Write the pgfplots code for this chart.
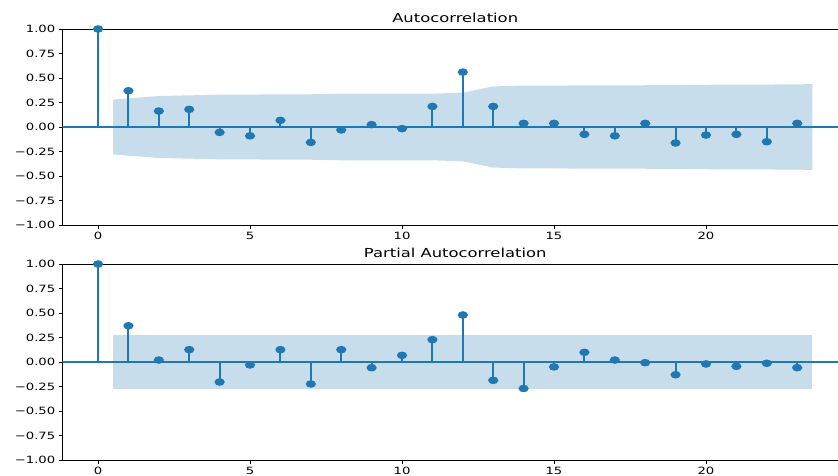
\documentclass[border=0pt]{standalone}
\usepackage{fontspec}
\setmainfont{DejaVu Sans}[FakeStretch=1.32]
\usepackage{pgfplots}
\pgfplotsset{compat=1.18}
\definecolor{c0}{HTML}{1F77B4}
\definecolor{band}{RGB}{199,221,236}
\pgfplotsset{acfstyle/.style={
  scale only axis, width=785.8pt, height=196pt,
  xmin=-1.175, xmax=24.675, ymin=-1, ymax=1,
  xtick={0,5,10,15,20},
  ytick={-1,-0.75,-0.5,-0.25,0,0.25,0.5,0.75,1},
  yticklabels={−1.00,−0.75,−0.50,−0.25,0.00,0.25,0.50,0.75,1.00},
  xtick pos=left, ytick pos=left, tick align=outside,
  major tick length=3.5pt,
  tick style={black, line width=0.8pt},
  axis line style={black, line width=0.8pt},
  tick label style={font=\fontsize{10}{12}\selectfont, text=black},
  clip mode=individual,
  title style={at={(0.5,1)}, anchor=base, yshift=0.5pt, font=\fontsize{12.4}{14}\selectfont},
  /pgf/number format/assume math mode=true,
  stem/.style={ycomb, c0, line width=2pt, mark=*, mark size=2.75pt,
    mark options={draw=none, fill=c0, xscale=1.45}},
}}
\pgfplotstableread{
x y
0 1.0
1 0.37
2 0.163
3 0.18
4 -0.055
5 -0.09
6 0.068
7 -0.157
8 -0.03
9 0.024
10 -0.017
11 0.21
12 0.56
13 0.21
14 0.037
15 0.037
16 -0.075
17 -0.09
18 0.037
19 -0.163
20 -0.082
21 -0.075
22 -0.15
23 0.037
}\acfdata
\pgfplotstableread{
x y
0 1.0
1 0.37
2 0.02
3 0.126
4 -0.204
5 -0.03
6 0.126
7 -0.224
8 0.126
9 -0.058
10 0.068
11 0.228
12 0.48
13 -0.187
14 -0.27
15 -0.05
16 0.099
17 0.02
18 -0.007
19 -0.13
20 -0.02
21 -0.044
22 -0.013
23 -0.058
}\pacfdata
\begin{document}
\begin{tikzpicture}
\useasboundingbox (0,0) rectangle (838pt,475pt);
\begin{axis}[acfstyle, at={(62.3pt,250pt)}, anchor=south west, title={Autocorrelation}]
\addplot[fill=band, draw=none] coordinates {
(0.5,0.280) (2,0.316) (3,0.323) (4,0.330) (5,0.331) (6,0.333) (7,0.334) (8,0.340)
(9,0.340) (10,0.340) (11,0.340) (12,0.350) (13,0.414) (14,0.423) (15,0.423) (16,0.424)
(17,0.425) (18,0.426) (19,0.427) (20,0.431) (21,0.432) (22,0.433) (23.5,0.437)
(23.5,-0.437) (22,-0.433) (21,-0.432) (20,-0.431) (19,-0.427) (18,-0.426) (17,-0.425)
(16,-0.424) (15,-0.423) (14,-0.423) (13,-0.414) (12,-0.350) (11,-0.340) (10,-0.340)
(9,-0.340) (8,-0.340) (7,-0.334) (6,-0.333) (5,-0.331) (4,-0.330) (3,-0.323) (2,-0.316) (0.5,-0.280)
} -- cycle;
\addplot[c0, line width=1.5pt] coordinates {(-1.175,0) (24.675,0)};
\addplot[stem] table[x=x, y=y] {\acfdata};
\end{axis}
\begin{axis}[acfstyle, at={(62.3pt,15pt)}, anchor=south west, title={Partial Autocorrelation}]
\addplot[fill=band, draw=none] coordinates {
(0.5,0.28) (23.5,0.28) (23.5,-0.28) (0.5,-0.28)
} -- cycle;
\addplot[c0, line width=1.5pt] coordinates {(-1.175,0) (24.675,0)};
\addplot[stem] table[x=x, y=y] {\pacfdata};
\end{axis}
\end{tikzpicture}
\end{document}
